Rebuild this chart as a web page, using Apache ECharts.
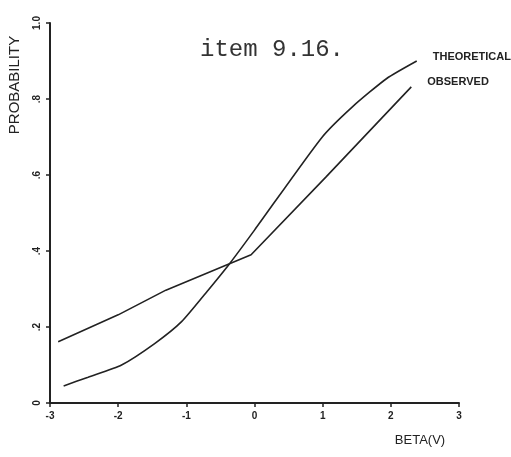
<!DOCTYPE html>
<html>
<head>
<meta charset="utf-8">
<script src="https://cdn.jsdelivr.net/npm/echarts@6/dist/echarts.min.js"></script>
<style>
  html, body { margin: 0; padding: 0; background: #fff; }
  #chart { width: 511px; height: 457px; }
</style>
</head>
<body>
<div id="chart"></div>
<script>
// values
var theoreticalX = [-2.8, -2.44, -1.95, -1.46, -1.07, -0.68, -0.36, 0, 0.98, 1.44, 1.94, 2.38]
var theoreticalY = [0.045, 0.068, 0.10, 0.157, 0.214, 0.297, 0.368, 0.455, 0.697, 0.78, 0.854, 0.90]
var observedX = [-2.88, -2.0, -1.3, -0.05, 1.05, 2.3]
var observedY = [0.161, 0.232, 0.297, 0.39, 0.595, 0.832]
var xTicks = [-3, -2, -1, 0, 1, 2, 3]
var yTickLabels = { 0: '0', 0.2: '.2', 0.4: '.4', 0.6: '.6', 0.8: '.8', 1: '1.0' }

function pairs(xs, ys) {
  return xs.map(function(x, i) { return [x, ys[i]] })
}

var ink = '#222'
var chart = echarts.init(document.getElementById('chart'))
chart.setOption({
  animation: false,
  backgroundColor: '#fff',
  title: {
    text: 'item 9.16.',
    left: 195,
    top: 33,
    textStyle: {
      fontFamily: 'Liberation Mono',
      fontSize: 24,
      fontWeight: 'normal',
      color: '#333'
    }
  },
  grid: { left: 50, right: 52, top: 23, bottom: 54 },
  xAxis: {
    type: 'value',
    min: -3,
    max: 3,
    interval: 1,
    splitLine: { show: false },
    axisLine: { show: true, onZero: false, lineStyle: { color: ink, width: 2 } },
    axisTick: { show: true, length: 4, lineStyle: { color: ink, width: 1.5 } },
    axisLabel: {
      margin: 8,
      color: ink,
      fontSize: 10,
      fontWeight: 'bold',
      fontFamily: 'Liberation Sans',
      formatter: function(v) { return xTicks.indexOf(v) >= 0 ? String(v) : '' }
    }
  },
  yAxis: {
    type: 'value',
    min: 0,
    max: 1,
    interval: 0.2,
    splitLine: { show: false },
    axisLine: { show: true, onZero: false, lineStyle: { color: ink, width: 2 } },
    axisTick: { show: true, length: 4, lineStyle: { color: ink, width: 1.5 } },
    axisLabel: {
      rotate: 90,
      margin: 8,
      color: ink,
      fontSize: 10,
      fontWeight: 'bold',
      fontFamily: 'Liberation Sans',
      formatter: function(v) {
        var k = Math.round(v * 10) / 10
        return yTickLabels[k] !== undefined ? yTickLabels[k] : ''
      }
    }
  },
  graphic: [
    {
      type: 'text',
      x: 15,
      y: 85,
      rotation: Math.PI / 2,
      style: {
        text: 'PROBABILITY',
        fill: ink,
        font: '15px Liberation Sans',
        align: 'center',
        verticalAlign: 'middle'
      }
    },
    {
      type: 'text',
      x: 420,
      y: 440,
      style: {
        text: 'BETA(V)',
        fill: ink,
        font: '13px Liberation Sans',
        align: 'center',
        verticalAlign: 'middle'
      }
    }
  ],
  series: [
    {
      name: 'THEORETICAL',
      type: 'line',
      smooth: 0.2,
      symbol: 'none',
      lineStyle: { color: ink, width: 1.6 },
      endLabel: {
        show: true,
        formatter: 'THEORETICAL',
        offset: [8, -4],
        color: ink,
        fontSize: 11,
        fontWeight: 'bold',
        fontFamily: 'Liberation Sans'
      },
      data: pairs(theoreticalX, theoreticalY)
    },
    {
      name: 'OBSERVED',
      type: 'line',
      symbol: 'none',
      lineStyle: { color: ink, width: 1.6 },
      endLabel: {
        show: true,
        formatter: 'OBSERVED',
        offset: [8, -5],
        color: ink,
        fontSize: 11,
        fontWeight: 'bold',
        fontFamily: 'Liberation Sans'
      },
      data: pairs(observedX, observedY)
    }
  ]
})
</script>
</body>
</html>
